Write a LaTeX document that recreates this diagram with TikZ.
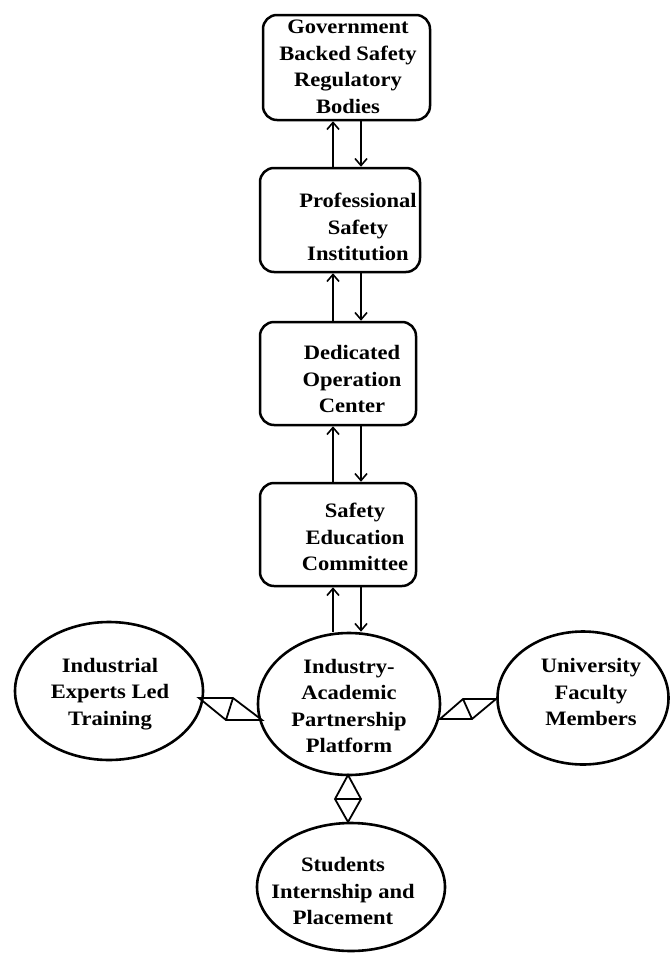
\documentclass[tikz,border=0pt]{standalone}
\usepackage{fontspec}
\setmainfont{Liberation Serif}[FakeStretch=1.1]
\usetikzlibrary{arrows.meta,shapes.geometric}
\begin{document}
\begin{tikzpicture}[x=1pt,y=-1pt,
  box/.style={draw,line width=2.5pt,rounded corners=14pt,inner sep=0pt},
  oval/.style={draw,ellipse,line width=2.6pt,inner sep=0pt},
  txt/.style={align=center,font=\fontsize{20.5}{26.5}\selectfont\bfseries,inner sep=0pt},
  flow/.style={line width=1.6pt,-{Straight Barb[length=7pt,width=12pt,line width=1.6pt]}},
  joint/.style={line width=1.8pt,line join=miter}]
\useasboundingbox (0,0) rectangle (670,953);

% stacked boxes
\node[box,minimum width=167pt,minimum height=105pt] (b1) at (346.5,67.5) {};
\node[box,minimum width=160pt,minimum height=104pt] (b2) at (340,220) {};
\node[box,minimum width=156pt,minimum height=103pt] (b3) at (338,373.5) {};
\node[box,minimum width=156pt,minimum height=103pt] (b4) at (338,534.5) {};

\node[txt] (t1) at (348,67) {Government\\Backed Safety\\Regulatory\\Bodies};
\node[txt] (t2) at (358,227) {Professional\\Safety\\Institution};
\node[txt] (t3) at (352,379) {Dedicated\\Operation\\Center};
\node[txt] (t4) at (355,537) {Safety\\Education\\Committee};

% ellipses
\node[oval,minimum width=182pt,minimum height=142pt] (hub) at (349,704) {};
\node[oval,minimum width=188pt,minimum height=138pt] (ind) at (109,691) {};
\node[oval,minimum width=171pt,minimum height=133pt] (uni) at (583,698) {};
\node[oval,minimum width=188pt,minimum height=128pt] (stu) at (351,887) {};

\node[txt] (th) at (349,706) {Industry-\\Academic\\Partnership\\Platform};
\node[txt] (ti) at (110,694) {Industrial\\Experts Led\\Training};
\node[txt] (tu) at (591,692) {University\\Faculty\\Members};
\node[txt] (ts) at (343,891) {Students\\Internship and\\Placement};

% two-way links between the levels
\foreach \lo/\hi in {b2/b1,b3/b2,b4/b3,hub/b4}{
  \draw[flow] (\lo.north -| 333,0) -- (\hi.south -| 333,0);
  \draw[flow] (\hi.south -| 361,0) -- (\lo.north -| 361,0);
}

% diamond joints on the hub
\draw[joint] (199,698) -- (233,698) -- (262,720) -- (226,720) -- cycle
             (233,698) -- (226,720);
\draw[joint] (440,719) -- (463,699) -- (496,699) -- (472,719) -- cycle
             (463,699) -- (472,719);
\draw[joint] (348,775) -- (361,799) -- (348,822) -- (335,799) -- cycle
             (335,799) -- (361,799);
\end{tikzpicture}
\end{document}
